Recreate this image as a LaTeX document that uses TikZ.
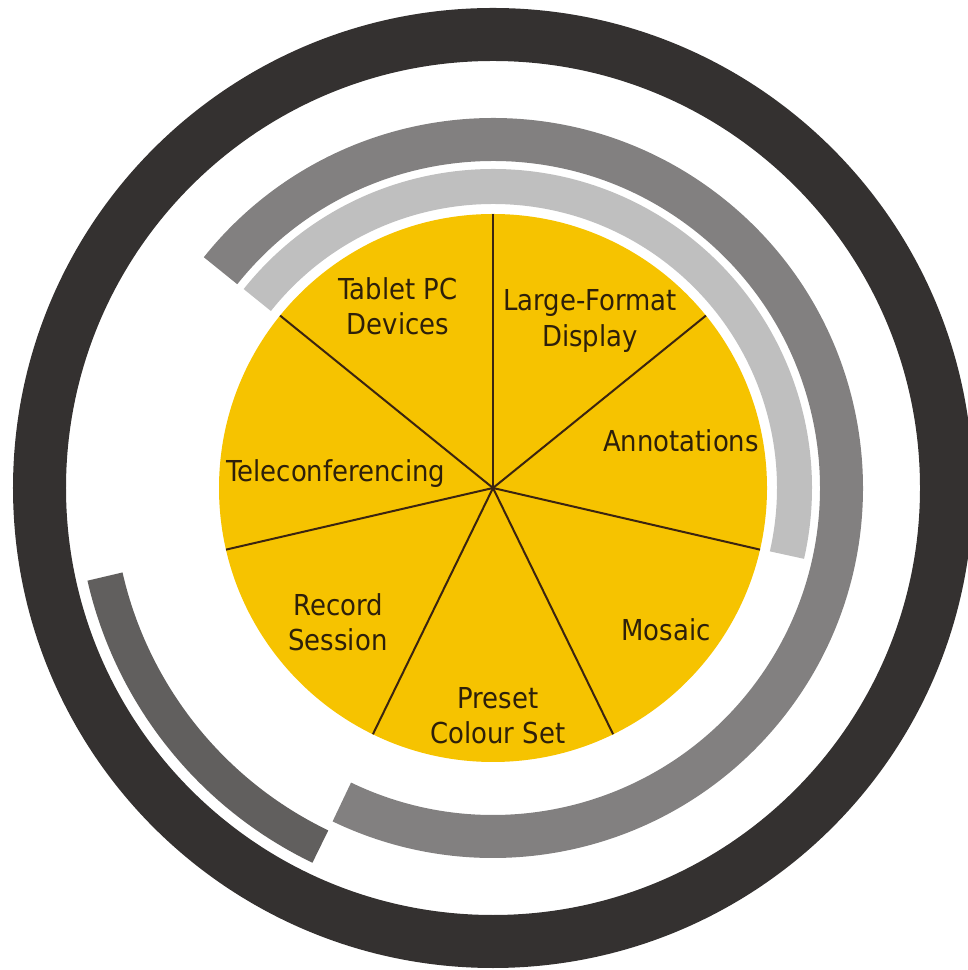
\documentclass[tikz,border=0pt]{standalone}
\usepackage{fontspec}
\setmainfont{DejaVu Sans Condensed}
\usepackage{xcolor}
\usepackage{tikz}
\usetikzlibrary{positioning}

\definecolor{hubyellow}{HTML}{F6C300}
\definecolor{darkring}{HTML}{343130}
\definecolor{midring}{HTML}{828080}
\definecolor{lightring}{HTML}{BFBFBF}
\definecolor{lowring}{HTML}{615F5E}
\definecolor{labeltext}{HTML}{2E200A}
\definecolor{spokecol}{HTML}{3B2410}

\begin{document}
\begin{tikzpicture}[
    x=0.1mm, y=0.1mm,
    ring/.style={line width=#1},
    hubdisk/.style={circle, fill=hubyellow, minimum size=54.8mm, inner sep=0pt, outer sep=0pt},
    feature/.style={align=center, text=labeltext, inner sep=0pt, font=\fontsize{8.2}{10}\selectfont},
    spoke/.style={draw=spokecol, line width=0.2mm}
]
\useasboundingbox (-493,-482) rectangle (474,488);

\draw[ring=5.3mm, darkring] (0,0) circle (453.5);
\draw[ring=4.3mm, midring] (141.43:348.5) arc[start angle=141.43, end angle=-115.71, radius=348.5];
\draw[ring=3.5mm, lightring] (141.43:301.5) arc[start angle=141.43, end angle=-12.86, radius=301.5];
\draw[ring=3.6mm, lowring] (192.86:398) arc[start angle=192.86, end angle=244.29, radius=398];

\node[hubdisk] (hub) at (0,0) {};

\draw[spoke] (hub.center) -- (hub.90);
\draw[spoke] (hub.center) -- (hub.39);
\draw[spoke] (hub.center) -- (hub.-13);
\draw[spoke] (hub.center) -- (hub.-64);
\draw[spoke] (hub.center) -- (hub.-116);
\draw[spoke] (hub.center) -- (hub.-167);
\draw[spoke] (hub.center) -- (hub.141);

\node[feature] (tablet) at (-95,182) {Tablet PC\\Devices};
\node[feature] (display) at (97,167) {Large-Format\\Display};
\node[feature] (annot) at (188,47) {Annotations};
\node[feature] (tele) at (-157,14) {Teleconferencing};
\node[feature] (record) at (-155,-134) {Record\\Session};
\node[feature] (mosaic) at (173,-142) {Mosaic};
\node[feature] (preset) at (5,-228) {Preset\\Colour Set};
\end{tikzpicture}
\end{document}
